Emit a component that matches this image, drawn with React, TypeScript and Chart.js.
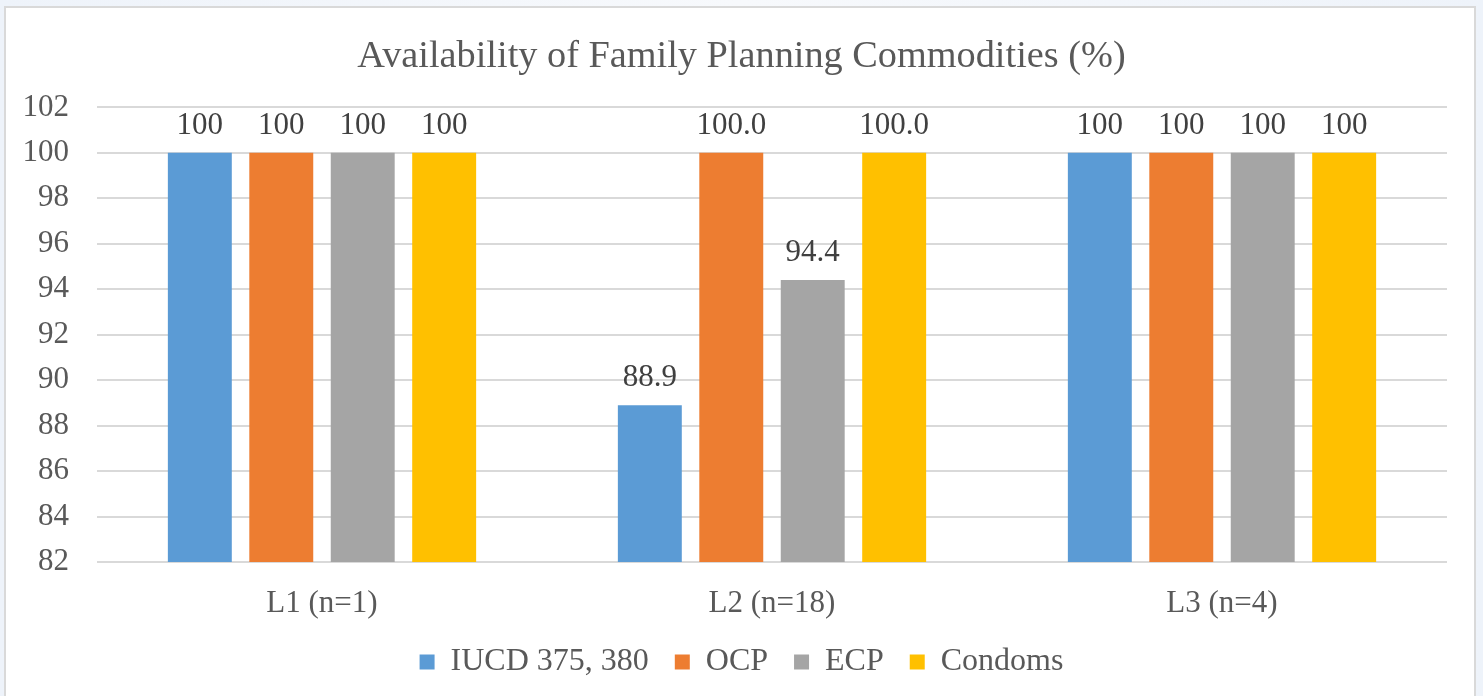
import React, { useEffect, useRef } from "react";
import { Chart, registerables } from "chart.js";

Chart.register(...registerables);

const categories = ["L1 (n=1)", "L2 (n=18)", "L3 (n=4)"];
const seriesNames = ["IUCD 375, 380", "OCP", "ECP", "Condoms"];
const iucdValues = [100, 88.9, 100];
const ocpValues = [100, 100, 100];
const ecpValues = [100, 94.4, 100];
const condomValues = [100, 100, 100];
const iucdLabels = ["100", "88.9", "100"];
const ocpLabels = ["100", "100.0", "100"];
const ecpLabels = ["100", "94.4", "100"];
const condomLabels = ["100", "100.0", "100"];
const yMin = 82;
const yMax = 102;
const yStep = 2;

const seriesValues = [iucdValues, ocpValues, ecpValues, condomValues];
const seriesLabels = [iucdLabels, ocpLabels, ecpLabels, condomLabels];
const colors = ["#5B9BD5", "#ED7D31", "#A5A5A5", "#FFC000"];
const FONT = "'Liberation Serif', 'Times New Roman', serif";

const dataLabelPlugin = {
  id: "dataLabels",
  afterDatasetsDraw(chart: any) {
    const ctx = chart.ctx;
    ctx.save();
    ctx.font = `31px ${FONT}`;
    ctx.fillStyle = "#404040";
    ctx.textAlign = "center";
    ctx.textBaseline = "middle";
    chart.data.datasets.forEach((ds: any, di: number) => {
      const meta = chart.getDatasetMeta(di);
      meta.data.forEach((el: any, i: number) => {
        ctx.fillText(ds.valueLabels[i], el.x, el.y - 27);
      });
    });
    ctx.restore();
  },
};

export default function App() {
  const ref = useRef<HTMLCanvasElement>(null);
  useEffect(() => {
    if (!ref.current) return;
    const chart = new Chart(ref.current, {
      type: "bar",
      data: {
        labels: categories,
        datasets: seriesNames.map((name, i) => ({
          label: name,
          data: seriesValues[i],
          valueLabels: seriesLabels[i],
          backgroundColor: colors[i],
          borderWidth: 0,
          categoryPercentage: 0.724,
          barPercentage: 0.785,
        })) as any,
      },
      options: {
        responsive: false,
        animation: false,
        devicePixelRatio: 1,
        layout: { padding: { left: 0, right: 0, top: 0, bottom: 8 } },
        plugins: {
          title: {
            display: true,
            text: "Availability of Family Planning Commodities (%)",
            color: "#595959",
            font: { family: FONT, size: 38.3, weight: "normal" },
            padding: { top: 34, bottom: 27.4 },
          },
          legend: {
            position: "bottom",
            labels: {
              color: "#595959",
              font: { family: FONT, size: 32 },
              boxWidth: 15,
              boxHeight: 15,
              padding: 26,
            },
          },
          tooltip: { enabled: false },
        },
        scales: {
          x: {
            grid: { display: false, drawTicks: false },
            border: { display: false },
            ticks: {
              color: "#595959",
              font: { family: FONT, size: 31 },
              padding: 23,
            },
            afterFit: (s: any) => {
              s.height = 58;
            },
          },
          y: {
            min: yMin,
            max: yMax,
            grid: { color: "#d9d9d9", lineWidth: 2, drawTicks: false },
            border: { display: false },
            ticks: {
              stepSize: yStep,
              color: "#595959",
              font: { family: FONT, size: 31 },
              padding: 28,
            },
            afterFit: (s: any) => {
              s.width = 97;
            },
          },
          yRight: {
            position: "right",
            min: yMin,
            max: yMax,
            grid: { display: false, drawTicks: false },
            border: { display: false },
            ticks: { display: false },
            afterFit: (s: any) => {
              s.width = 36;
            },
          },
        },
      },
      plugins: [dataLabelPlugin],
    });
    return () => chart.destroy();
  }, []);

  return (
    <div
      style={{
        position: "absolute",
        left: 0,
        top: 0,
        width: 1483,
        height: 696,
        overflow: "hidden",
        background: "linear-gradient(90deg, #eef3fa 0%, #f7f9fc 50%, #eef3fa 100%)",
      }}
    >
      <div
        style={{
          position: "absolute",
          left: 4,
          top: 6,
          width: 1472,
          height: 710,
          boxSizing: "border-box",
          border: "2px solid #d9d9d9",
          background: "#ffffff",
        }}
      />
      <canvas
        ref={ref}
        width={1483}
        height={696}
        style={{ position: "absolute", left: 0, top: 0, width: 1483, height: 696 }}
      />
    </div>
  );
}
